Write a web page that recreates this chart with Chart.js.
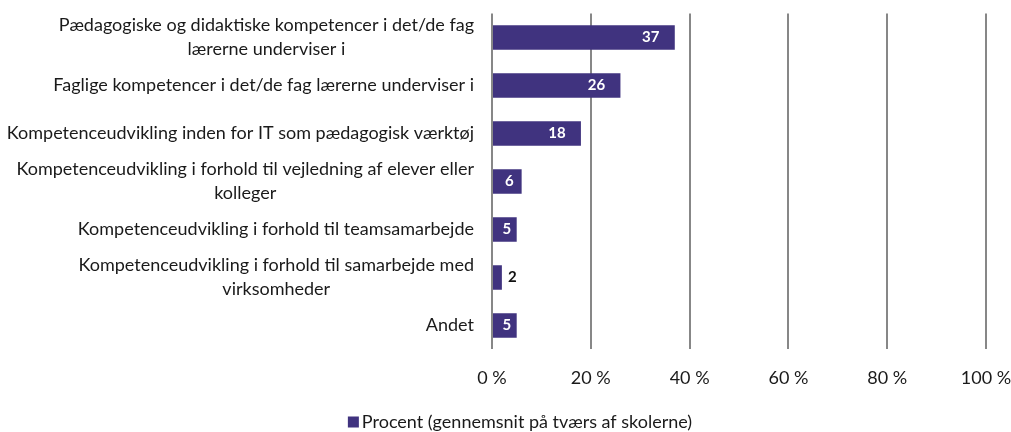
<!DOCTYPE html>
<html>
<head>
<meta charset="utf-8">
<script src="https://cdn.jsdelivr.net/npm/chart.js@4"></script>
<style>
  html, body { margin: 0; padding: 0; background: #ffffff; }
  #wrap { width: 1011px; height: 432px; position: relative; }
</style>
</head>
<body>
<div id="wrap"><canvas id="c" width="1011" height="432"></canvas></div>
<script>
const categories = [
  ["Pædagogiske og didaktiske kompetencer i det/de fag", "lærerne underviser i"],
  ["Faglige kompetencer i det/de fag lærerne underviser i"],
  ["Kompetenceudvikling inden for IT som pædagogisk værktøj"],
  ["Kompetenceudvikling i forhold til vejledning af elever eller", "kolleger"],
  ["Kompetenceudvikling i forhold til teamsamarbejde"],
  ["Kompetenceudvikling i forhold til samarbejde med", "virksomheder"],
  ["Andet"]
];
const values = [37, 26, 18, 6, 5, 2, 5];
const seriesName = "Procent (gennemsnit på tværs af skolerne)";
const xTicks = [0, 20, 40, 60, 80, 100];

const FONT = "Lato, 'Open Sans', sans-serif";
const BAR = "#40337f";
const TXT = "#1a1a1a";

const yLabelPlugin = {
  id: 'yLabels',
  afterDraw(chart) {
    const ctx = chart.ctx;
    const ys = chart.scales.y;
    const right = chart.chartArea.left - 18;
    ctx.save();
    ctx.font = "18px " + FONT;
    ctx.fillStyle = TXT;
    ctx.textBaseline = "middle";
    ctx.textAlign = "center";
    const lh = 24;
    categories.forEach((lines, i) => {
      const yc = ys.getPixelForValue(i);
      const maxW = Math.max(...lines.map(l => ctx.measureText(l).width));
      const cx = right - maxW / 2;
      const y0 = yc - (lines.length - 1) * lh / 2;
      lines.forEach((l, k) => ctx.fillText(l, cx, y0 + k * lh));
    });
    ctx.restore();
  }
};

const valueLabelPlugin = {
  id: 'valueLabels',
  afterDatasetsDraw(chart) {
    const ctx = chart.ctx;
    const meta = chart.getDatasetMeta(0);
    ctx.save();
    ctx.font = "bold 15px " + FONT;
    ctx.textBaseline = "middle";
    meta.data.forEach((bar, i) => {
      const txt = String(values[i]);
      const w = ctx.measureText(txt).width;
      const start = bar.base, end = bar.x;
      if (end - start >= w + 10) {
        const cx = Math.max(end - 24, (start + end) / 2 + 2);
        ctx.fillStyle = "#ffffff";
        ctx.textAlign = "center";
        ctx.fillText(txt, cx, bar.y);
      } else {
        ctx.fillStyle = "#111111";
        ctx.textAlign = "left";
        ctx.fillText(txt, end + 6, bar.y);
      }
    });
    ctx.restore();
  }
};

const legendPlugin = {
  id: 'customLegend',
  afterDraw(chart) {
    const ctx = chart.ctx;
    ctx.save();
    ctx.font = "18px " + FONT;
    const tw = ctx.measureText(seriesName).width;
    const box = 11, gap = 3;
    const total = box + gap + tw;
    const cx = 520;
    const x0 = cx - total / 2;
    const yc = 422;
    ctx.fillStyle = BAR;
    ctx.fillRect(x0, yc - box / 2, box, box);
    ctx.fillStyle = TXT;
    ctx.textBaseline = "middle";
    ctx.textAlign = "left";
    ctx.fillText(seriesName, x0 + box + gap, yc);
    ctx.restore();
  }
};

new Chart(document.getElementById('c'), {
  type: 'bar',
  data: {
    labels: categories.map(l => l.join(' ')),
    datasets: [{
      label: seriesName,
      data: values,
      backgroundColor: BAR,
      borderWidth: 0,
      categoryPercentage: 1,
      barPercentage: 0.51
    }]
  },
  options: {
    indexAxis: 'y',
    responsive: false,
    animation: false,
    devicePixelRatio: 1,
    layout: { padding: { left: 54, right: 25, top: 13.5, bottom: 25 } },
    scales: {
      x: {
        min: 0, max: 100,
        afterBuildTicks(scale) { scale.ticks = xTicks.map(v => ({ value: v })); },
        afterFit(scale) { scale.paddingLeft = 0; scale.paddingRight = 0; },
        grid: { color: "#878787", lineWidth: 2, drawTicks: false },
        border: { display: false },
        ticks: {
          padding: 18,
          color: TXT,
          font: { family: FONT, size: 18 },
          callback: v => v + " %"
        }
      },
      y: {
        grid: { display: false },
        border: { display: false },
        ticks: { display: false },
        afterFit(scale) { scale.width = 438; }
      }
    },
    plugins: {
      legend: { display: false },
      tooltip: { enabled: false }
    }
  },
  plugins: [yLabelPlugin, valueLabelPlugin, legendPlugin]
});
</script>
</body>
</html>
